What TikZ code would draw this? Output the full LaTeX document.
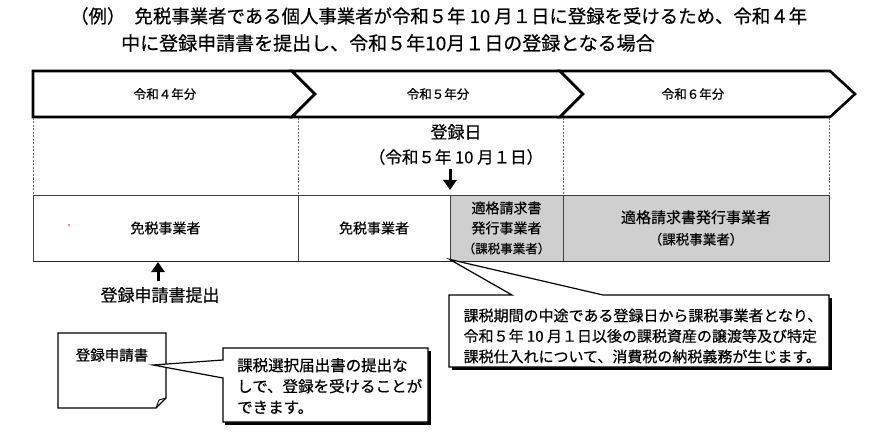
\documentclass[tikz,border=0pt]{standalone}
\usepackage{fontspec}
\setmainfont{Noto Sans CJK JP}[FakeBold=0.5]
\usetikzlibrary{arrows.meta}
\definecolor{cellgray}{HTML}{CFCFCF}
\tikzset{
  band/.style={draw=black, line width=2.6pt, fill=white, line join=miter},
  bandlabel/.style={font=\fontsize{12.5}{15}\selectfont, inner sep=0pt},
  cellbox/.style={draw=black!75, line width=0.8pt, inner sep=0pt, align=center},
  grid/.style={draw=black!60, line width=0.6pt, dash pattern=on 2pt off 1.5pt},
  callout/.style={draw=black, line width=1.2pt, fill=white, line join=miter},
  shadowbox/.style={fill=black},
  bigarrow/.style={line width=3pt, -{Triangle[width=13pt,length=10pt]}},
  heading/.style={inner sep=0pt, anchor=west},
}
\begin{document}
\begin{tikzpicture}[x=1pt,y=-1pt]
\useasboundingbox (0,0) rectangle (873,441);
\fill[white] (0,0) rectangle (873,441);

% heading
\node[heading, font=\fontsize{18.4}{22}\selectfont] (h1) at (70,16) {（例）\hspace{0.5em}免税事業者である個人事業者が令和５年 10 月１日に登録を受けるため、令和４年};
\node[heading, font=\fontsize{19}{23}\selectfont] (h2) at (121,43) {中に登録申請書を提出し、令和５年10月１日の登録となる場合};

% chevron band
\draw[band] (33,71) -- (292,71) -- (315,94) -- (292,117) -- (33,117) -- cycle;
\draw[band] (292,71) -- (560,71) -- (583,94) -- (560,117) -- (292,117) -- (315,94) -- cycle;
\draw[band] (560,71) -- (830,71) -- (855,94) -- (830,117) -- (560,117) -- (583,94) -- cycle;
\node[bandlabel] (y4) at (165,94) {令和４年分};
\node[bandlabel] (y5) at (438,94) {令和５年分};
\node[bandlabel] (y6) at (693,94) {令和６年分};

% upper row (dashed separators)
\foreach \xx in {33,298,563,829} \draw[grid] (\xx,118) -- (\xx,195);

% lower row cells
\node[cellbox, minimum width=265pt, minimum height=66pt, font=\fontsize{14}{18}\selectfont] (c1) at (165.5,228) {免税事業者};
\node[cellbox, minimum width=152pt, minimum height=66pt, font=\fontsize{14}{18}\selectfont] (c2) at (374,228) {免税事業者};
\node[cellbox, fill=cellgray, minimum width=113pt, minimum height=66pt, font=\fontsize{14}{20}\selectfont] (c3) at (506.5,228) {適格請求書\\発行事業者\\{\fontsize{12.5}{20}\selectfont （課税事業者）}};
\node[cellbox, fill=cellgray, minimum width=266pt, minimum height=66pt, font=\fontsize{15}{21.5}\selectfont] (c4) at (696,228) {適格請求書発行事業者\\{\fontsize{13.5}{21.5}\selectfont （課税事業者）}};
\draw[black!85, line width=0.9pt] (c1.south west) -- (c4.south east);
\fill[red] (69,225) circle (0.9pt);

% registration date
\node[font=\fontsize{17}{20}\selectfont, inner sep=0pt] (rd) at (456,132) {登録日};
\node[font=\fontsize{16.5}{20}\selectfont, inner sep=0pt] (rdd) at (456,157) {（令和５年 10 月１日）};
\coordinate (dtop) at (450,169);
\coordinate (dbot) at (450,190);
\draw[bigarrow] (dtop) -- (dbot);

% application submitted
\node[font=\fontsize{17}{20}\selectfont, inner sep=0pt] (sub) at (160,295) {登録申請書提出};
\coordinate (utop) at (158,262);
\coordinate (ubot) at (158,281);
\draw[bigarrow] (ubot) -- (utop);

% callout 1
\coordinate (tip1) at (c3.south west);
\fill[shadowbox] (451.5,297.5) rectangle (831.5,369.5);
\draw[callout] (449,295) -- (512,295) -- ([yshift=2pt]tip1) -- (603,295) -- (829,295) -- (829,367) -- (449,367) -- cycle;
\node[font=\fontsize{15}{20.5}\selectfont, inner sep=0pt, align=left] (t1) at (643,336) {課税期間の中途である登録日から課税事業者となり、\\令和５年 10 月１日以後の課税資産の譲渡等及び特定\\課税仕入れについて、消費税の納税義務が生じます。};

% document
\draw[callout, line width=1.1pt] (58,333) -- (166,333) -- (166,398) -- (156,408) -- (58,408) -- cycle;
\draw[line width=0.9pt] (156,408) -- (159,400) -- (166,398);
\node[font=\fontsize{14.5}{18}\selectfont, inner sep=0pt] (doc) at (112,355) {登録申請書};

% callout 2
\coordinate (tip2) at (153,365);
\fill[shadowbox] (225,350.5) rectangle (430.5,424.5);
\draw[callout] (223,348) -- (428,348) -- (428,422) -- (223,422) -- (223,378) -- (tip2) -- (223,360) -- cycle;
\node[font=\fontsize{15.5}{21}\selectfont, inner sep=0pt, align=left, anchor=west] (t2) at (237,386) {課税選択届出書の提出な\\しで、登録を受けることが\\できます。};
\end{tikzpicture}
\end{document}
